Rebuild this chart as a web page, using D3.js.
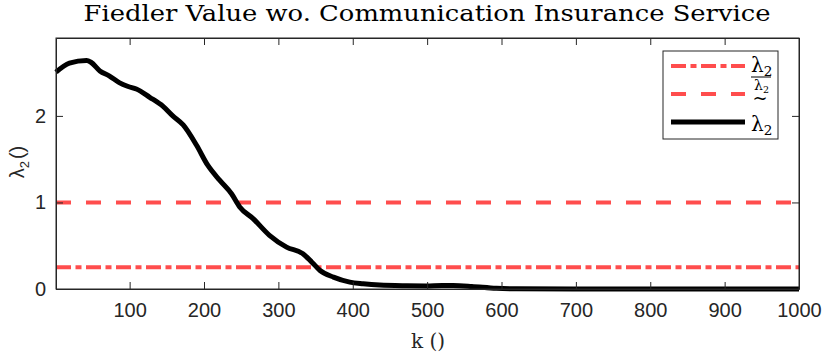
<!DOCTYPE html>
<html>
<head>
<meta charset="utf-8">
<script src="https://cdn.jsdelivr.net/npm/d3@7"></script>
<style>
  body { margin: 0; background: #fff; }
  svg { display: block; }
  .tick text { font-family: "Liberation Sans", Arial, sans-serif; font-size: 20px; fill: #262626; }
  .tick line, .domain { stroke: #262626; }
</style>
</head>
<body>
<svg width="830" height="355"></svg>
<script>
// curve
const kValues = [1, 19, 42, 48, 60, 73, 86, 98, 109, 127, 145, 158, 172, 190, 205, 221, 237, 248, 266, 288, 311, 333, 345, 356, 374, 396, 414, 436, 470, 499, 520, 535, 560, 593, 620, 700, 800, 900, 1000];
const lambda2 = [2.505, 2.61, 2.64, 2.62, 2.52, 2.46, 2.385, 2.34, 2.31, 2.215, 2.11, 2.0, 1.895, 1.66, 1.43, 1.257, 1.10, 0.948, 0.813, 0.62, 0.484, 0.408, 0.31, 0.214, 0.137, 0.079, 0.06, 0.045, 0.037, 0.035, 0.04, 0.04, 0.03, 0.008, 0.003, 0.001, 0, 0, 0];
const upperBound = 1;     // dashed
const lowerBound = 0.25;  // dash-dot
const xTicks = [100, 200, 300, 400, 500, 600, 700, 800, 900, 1000];
const yTicks = [0, 1, 2];

const svg = d3.select('svg');
const width = +svg.attr('width');
const height = +svg.attr('height');
const margin = { top: 38, right: 31, bottom: 66, left: 56 };
const innerWidth = width - margin.left - margin.right;
const innerHeight = height - margin.top - margin.bottom;
const red = '#ff4d4d';

const xScale = d3.scaleLinear().domain([1, 1000]).range([0, innerWidth]);
const yScale = d3.scaleLinear().domain([0, 2.9]).range([innerHeight, 0]);

const g = svg.append('g')
  .attr('transform', `translate(${margin.left},${margin.top})`);

// lines
const data = kValues.map((k, i) => ({ k, v: lambda2[i] }));

g.append('line')
  .attr('x1', xScale(1)).attr('x2', xScale(1000))
  .attr('y1', yScale(upperBound)).attr('y2', yScale(upperBound))
  .attr('stroke', red).attr('stroke-width', 4)
  .attr('stroke-dasharray', '15,15');

g.append('line')
  .attr('x1', xScale(1)).attr('x2', xScale(1000))
  .attr('y1', yScale(lowerBound)).attr('y2', yScale(lowerBound))
  .attr('stroke', red).attr('stroke-width', 4)
  .attr('stroke-dasharray', '15,4.5,6,4.5');

g.append('path')
  .datum(data)
  .attr('fill', 'none')
  .attr('stroke', '#000')
  .attr('stroke-width', 5)
  .attr('stroke-linejoin', 'round')
  .attr('d', d3.line().x(d => xScale(d.k)).y(d => yScale(d.v)).curve(d3.curveMonotoneX));

// axes (ticks inward, box on)
const tickLen = 7;
const fmt = d3.format('d');
const xAxisG = g.append('g')
  .attr('transform', `translate(0,${innerHeight})`)
  .call(d3.axisBottom(xScale).tickValues(xTicks).tickFormat(fmt).tickSize(-tickLen).tickPadding(14).tickSizeOuter(0));
const yAxisG = g.append('g')
  .call(d3.axisLeft(yScale).tickValues(yTicks).tickFormat(fmt).tickSize(-tickLen).tickPadding(10).tickSizeOuter(0));
g.append('g')
  .call(d3.axisTop(xScale).tickValues(xTicks).tickSize(-tickLen).tickFormat('').tickSizeOuter(0));
g.append('g')
  .attr('transform', `translate(${innerWidth},0)`)
  .call(d3.axisRight(yScale).tickValues(yTicks).tickSize(-tickLen).tickFormat('').tickSizeOuter(0));
xAxisG.selectAll('.tick text').attr('dy', '0.71em');

g.append('rect')
  .attr('width', innerWidth).attr('height', innerHeight)
  .attr('fill', 'none').attr('stroke', '#262626').attr('stroke-width', 1);

// title and labels
svg.append('text')
  .attr('x', 427).attr('y', 21)
  .attr('text-anchor', 'middle')
  .attr('font-family', '"DejaVu Serif", "Liberation Serif", serif')
  .attr('font-size', 22)
  .attr('textLength', 687).attr('lengthAdjust', 'spacingAndGlyphs')
  .attr('fill', '#000')
  .text('Fiedler Value wo. Communication Insurance Service');

svg.append('text')
  .attr('x', 428).attr('y', 348)
  .attr('text-anchor', 'middle')
  .attr('font-family', '"DejaVu Serif", "Liberation Serif", serif')
  .attr('font-size', 20)
  .attr('fill', '#262626')
  .text('k ()');

const yl = svg.append('text')
  .attr('transform', 'translate(24,162) rotate(-90)')
  .attr('text-anchor', 'middle')
  .attr('font-family', '"Liberation Sans", sans-serif')
  .attr('font-size', 20)
  .attr('fill', '#262626');
yl.append('tspan').text('λ');
yl.append('tspan').attr('font-size', 13).attr('dy', 5).text('2');
yl.append('tspan').attr('dy', -5).attr('dx', 2).text('()');

// legend
const lg = svg.append('g').attr('transform', 'translate(663,51)');
lg.append('rect').attr('width', 115).attr('height', 88)
  .attr('fill', '#fff').attr('stroke', '#262626').attr('stroke-width', 1);
const rows = [
  { y: 15, dash: '15,4.5,6,4.5', color: red, w: 4 },
  { y: 43, dash: '15,15', color: red, w: 4 },
  { y: 71, dash: null, color: '#000', w: 5 }
];
rows.forEach(r => {
  lg.append('line')
    .attr('x1', 8).attr('x2', 82).attr('y1', r.y).attr('y2', r.y)
    .attr('stroke', r.color).attr('stroke-width', r.w)
    .attr('stroke-dasharray', r.dash);
});
const serif = '"DejaVu Serif", "Liberation Serif", serif';
function lam(sel, x, y, size) {
  const t = sel.append('text').attr('x', x).attr('y', y)
    .attr('font-family', serif).attr('font-size', size).attr('fill', '#000');
  t.append('tspan').text('λ');
  t.append('tspan').attr('font-size', size * 0.68).attr('dy', size * 0.22).text('2');
  return t;
}
lam(lg, 88, 21, 20);
lg.append('line').attr('x1', 88).attr('x2', 108).attr('y1', 26).attr('y2', 26)
  .attr('stroke', '#000').attr('stroke-width', 1);
lam(lg, 91, 39, 14);
lg.append('text').attr('x', 97).attr('y', 53).attr('text-anchor', 'middle')
  .attr('font-family', serif).attr('font-size', 18).text('~');
lam(lg, 88, 80, 20);
</script>
</body>
</html>
